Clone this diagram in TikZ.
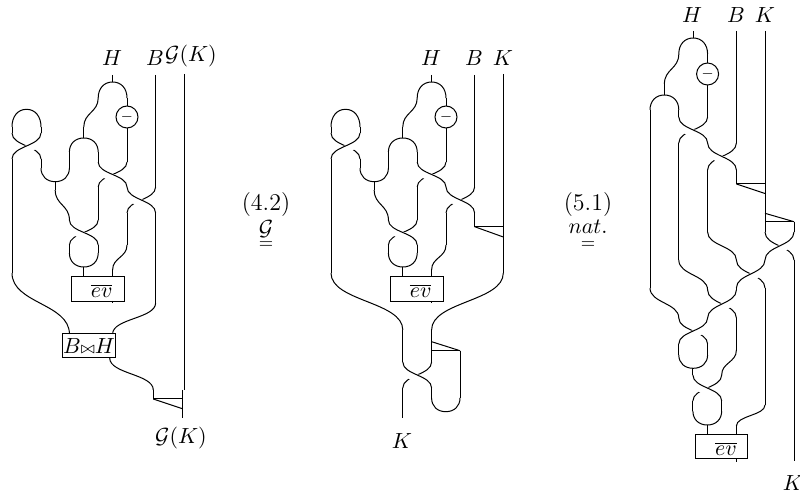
\documentclass[tikz,border=0pt]{standalone}
\tikzset{
  wire/.style={line width=0.5pt,black},
  gapwire/.style={line width=3.6pt,white},
  opbox/.style={draw,line width=0.5pt,inner sep=0pt},
  anti/.style={draw,circle,line width=0.5pt,minimum size=11pt,inner sep=0pt},
  lab/.style={inner sep=0pt,font=\fontsize{11}{13}\selectfont},
  eqn/.style={inner sep=0pt,font=\fontsize{12}{14}\selectfont},
  eqlow/.style={inner sep=0pt,font=\fontsize{10.5}{12}\selectfont},
  eqbar/.style={inner sep=0pt,font=\fontsize{9}{10}\selectfont}
}
% S curve
\newcommand\Sc[5][wire]{\draw[#1] (#2,#3) .. controls (#2,{#3+0.5*(#5-#3)}) and (#4,{#3+0.5*(#5-#3)}) .. (#4,#5);}
\newcommand\XP[4]{\Sc{#2}{#3}{#1}{#4}\Sc[gapwire]{#1}{#3+4}{#2}{#4-4}\Sc{#1}{#3}{#2}{#4}}
\newcommand\XN[4]{\Sc{#1}{#3}{#2}{#4}\Sc[gapwire]{#2}{#3+4}{#1}{#4-4}\Sc{#2}{#3}{#1}{#4}}
% cap or cup: x1 x2 yside yapex
\newcommand\Arc[4]{\draw[wire] (#1,#3) .. controls (#1,{#3+0.6*(#4-#3)}) and ({#1+0.2*(#2-#1)},#4) .. ({(#1+#2)/2},#4) .. controls ({#2-0.2*(#2-#1)},#4) and (#2,{#3+0.6*(#4-#3)}) .. (#2,#3);}
\newcommand\Vw[3]{\draw[wire] (#1,#2) -- (#1,#3);}
\newcommand\Tri[4]{\draw[wire] (#1,#3) -- (#2,#3); \draw[wire] (#1,#3) -- (#2,#4);}
% shared upper part of the first two pictures
\newcommand\UpperPart[1]{
  \Vw{112.6}{75}{82}
  \Arc{98.2}{127}{98}{82}
  \node[anti] (#1anti) at (127,117) {$\scriptstyle -$};
  \Vw{127}{98}{106}
  \Vw{127}{128}{162}
  \Sc{98.2}{98}{83.8}{127}
  \Vw{83.8}{127}{138}
  \Arc{69.4}{98.2}{152}{138}
  \Vw{69.4}{152}{168}
  \Vw{98.2}{152}{162}
  \XP{98.2}{127}{162}{187}
  \Arc{41}{69.4}{168}{181.7}
  \Vw{55.2}{181.7}{190}
  \Sc{55.2}{190}{69.4}{220}
  \Vw{98.2}{187}{220}
  \XP{69.4}{98.2}{220}{245}
  \Vw{69.4}{245}{253}
  \Vw{98.2}{245}{253}
  \Arc{69.4}{98.2}{253}{267}
  \Vw{83.8}{267}{277}
  \Arc{12}{41}{127}{109.3}
  \Vw{12}{127}{133}
  \Vw{41}{127}{133}
  \XN{12}{41}{133}{159}
  \Vw{41}{159}{168}
  \XP{127}{155.6}{187}{213}
  \Vw{155.6}{75}{187}
  \Vw{127}{213}{245}
  \Sc{127}{245}{112.6}{270}
  \Vw{112.6}{270}{277}
  \Vw{112.6}{301}{303}
  \Vw{12}{159}{273}
  \node[opbox,minimum width=26.2pt,minimum height=12.2pt] (#1ev) at (97.8,289) {};
  \node[lab] (#1evt) at (101.7,291) {$\overline{ev}$};
  \node[lab] (#1H) at (112,58) {$H$};
  \node[lab] (#1B) at (155,58) {$B$};
}
\begin{document}
\begin{tikzpicture}[x=0.5pt,y=-0.5pt]
\useasboundingbox (0,0) rectangle (800,497);
% ---------- first picture
\UpperPart{a}
\Sc{12}{273}{69.4}{334}
\Vw{155.6}{213}{303}
\Sc{155.6}{303}{112.6}{334}
\node[opbox,lab,minimum width=26.2pt,minimum height=12pt] (abh) at (89,346) {$B{\scriptstyle\bowtie}H$};
\Vw{184.3}{74}{390}
\node[lab] (aG) at (191,56) {$\mathcal{G}(K)$};
\Sc{109.7}{358}{153.3}{390}
\Vw{153.3}{390}{399}
\Vw{182}{390}{418}
\Tri{153.3}{182}{399}{408.6}
\node[lab,font=\fontsize{10.5}{13}\selectfont] (aG2) at (181,438) {$\mathcal{G}(K)$};
% equals 1
\node[eqn] (e1) at (266,205) {(4.2)};
\node[eqlow] (e1a) at (266,229) {$\mathcal{G}$};
\node[eqbar] (e1b) at (266,245.5) {$=$};
% ---------- second picture
\begin{scope}[xshift=159.5pt]
\UpperPart{b}
\Vw{155.6}{213}{226.7}
\Tri{155.6}{184.3}{226.7}{237}
\Vw{184.3}{74}{273}
\node[lab] (bK) at (184,58) {$K$};
\Sc{12}{273}{83.8}{330}
\Sc{184.3}{273}{112.6}{330}
\Vw{83.8}{330}{362}
\Vw{112.6}{330}{362}
\XP{83.8}{112.6}{362}{388}
\Vw{83.8}{388}{418}
\Vw{112.6}{388}{398}
\Arc{112.6}{141}{398}{411.7}
\Vw{141}{350.7}{398}
\Vw{112.6}{341.7}{350.7}
\Tri{112.6}{141}{350.7}{350.7}
\draw[wire] (112.6,341.7) -- (141,350.7);
\node[lab] (bK2) at (83,441) {$K$};
\end{scope}
% equals 2
\node[eqn] (e2) at (588,205) {(5.1)};
\node[eqlow] (e2a) at (588,227) {$nat.$};
\node[eqbar] (e2b) at (588,245.5) {$=$};
% ---------- third picture
\node[lab] (cH) at (692,15) {$H$};
\node[lab] (cB) at (736,15) {$B$};
\node[lab] (cK) at (765,15) {$K$};
\Vw{693.2}{31}{38}
\Arc{678.8}{707.6}{54}{38}
\Vw{707.6}{54}{63}
\node[anti] (canti) at (707.6,74) {$\scriptstyle -$};
\Vw{707.6}{85}{117}
\Sc{678.8}{54}{664.4}{84}
\Vw{664.4}{84}{95}
\Arc{650}{678.8}{110}{95}
\Vw{678.8}{110}{117}
\XP{678.8}{707.6}{117}{143}
\XP{707.6}{736.4}{143}{170}
\Vw{736.4}{31}{143}
\Vw{736.4}{170}{184}
\Tri{736.4}{765}{184}{193.5}
\Vw{765}{31}{232}
\Vw{650}{110}{288}
\Vw{678.8}{143}{260}
\Vw{707.6}{170}{232}
\draw[wire] (765,213.3) -- (794,221.7);
\draw[wire] (765,221.7) -- (794,221.7);
\Vw{794}{221.7}{232}
\XN{765}{794}{232}{260}
\Sc{707.6}{232}{736.4}{260}
\XN{736.4}{765}{260}{288}
\Sc{678.8}{260}{707.6}{290}
\XN{707.6}{736.4}{290}{318}
\Sc{650}{288}{678.8}{318}
\XN{678.8}{707.6}{318}{344}
\Vw{736.4}{288}{290}
\Vw{794}{260}{461}
\Vw{765}{288}{405}
\Sc{765}{405}{736.4}{426}
\Vw{736.4}{426}{435}
\Vw{736.4}{459}{462}
\Vw{736.4}{318}{350}
\Sc{736.4}{350}{721.7}{375}
\Vw{678.8}{344}{355}
\Vw{707.6}{344}{355}
\Arc{678.8}{707.6}{355}{368.3}
\Vw{692.9}{368.3}{375}
\XP{692.9}{721.7}{375}{401}
\Vw{692.9}{401}{411}
\Vw{721.7}{401}{411}
\Arc{692.9}{721.7}{411}{425}
\Vw{707.3}{425}{435}
\node[opbox,minimum width=26.4pt,minimum height=12pt] (cev) at (721.4,447) {};
\node[lab] (cevt) at (726,449) {$\overline{ev}$};
\node[lab] (cK2) at (793,483) {$K$};
\end{tikzpicture}
\end{document}
